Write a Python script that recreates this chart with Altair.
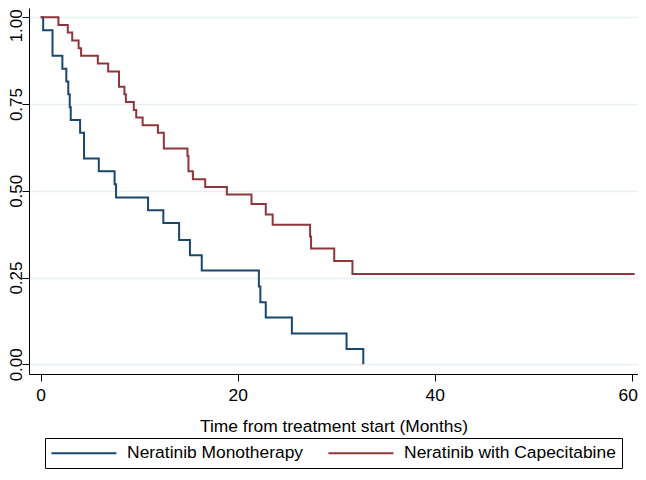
import altair as alt
import pandas as pd

# Kaplan-Meier step points
mono_label = "Neratinib Monotherapy"
mono_time = [0, 0.25, 1.2, 2.2, 2.6, 2.8, 2.95, 3.05, 4.0, 4.4, 5.9, 7.5, 7.65,
             10.9, 12.45, 14.05, 15.15, 16.35, 22.15, 22.3, 22.85, 25.5, 31.05, 32.75]
mono_surv = [1.0, 0.963, 0.889, 0.852, 0.815, 0.778, 0.741, 0.704, 0.667, 0.593,
             0.556, 0.519, 0.481, 0.444, 0.407, 0.358, 0.314, 0.270, 0.224, 0.179,
             0.135, 0.089, 0.044, 0.0]

cape_label = "Neratinib with Capecitabine"
cape_time = [0, 1.8, 2.75, 3.2, 3.85, 4.1, 5.8, 6.85, 7.95, 8.5, 8.65, 9.45, 9.7,
             10.35, 11.9, 12.5, 14.9, 15.0, 15.45, 16.7, 18.9, 21.4, 22.85, 23.55,
             27.35, 27.45, 29.8, 31.65, 60.3]
cape_surv = [1.0, 0.978, 0.956, 0.933, 0.911, 0.889, 0.867, 0.844, 0.800, 0.778,
             0.756, 0.733, 0.711, 0.689, 0.667, 0.622, 0.600, 0.556, 0.533, 0.511,
             0.489, 0.462, 0.432, 0.402, 0.368, 0.334, 0.298, 0.260, 0.260]

x_ticks = [0, 20, 40, 60]
y_ticks = [0, 0.25, 0.5, 0.75, 1.0]
groups = [mono_label, cape_label]
colors = ["#1a476f", "#90353b"]

df = pd.concat([
    pd.DataFrame({"t": mono_time, "s": mono_surv, "g": mono_label, "o": 0}),
    pd.DataFrame({"t": cape_time, "s": cape_surv, "g": cape_label, "o": 1}),
])

FONT = "Liberation Sans"
FS = 17.4

chart = alt.Chart(df).mark_line(interpolate="step-after", strokeWidth=2, clip=True).encode(
    x=alt.X("t:Q", scale=alt.Scale(domain=[-1.188, 60.64], nice=False, zero=False),
            axis=alt.Axis(values=x_ticks, title="Time from treatment start (Months)",
                          grid=False, tickSize=7, labelPadding=5, format="d",
                          labelOffset={"condition": {"test": "datum.value == 60", "value": -4}, "value": 0},
                          titleY=57, titleBaseline="alphabetic")),
    y=alt.Y("s:Q", scale=alt.Scale(domain=[-0.028, 1.0268], nice=False, zero=False),
            axis=alt.Axis(values=y_ticks, title=None, format=".2f", grid=True,
                          gridColor="#e6f0f2", gridWidth=1.5, tickSize=7, labelPadding=1,
                          labelFontSize=17,
                          labelAngle=270, labelAlign="center", labelBaseline="alphabetic",
                          labelOffset={"condition": {"test": "datum.value == 1", "value": 8}, "value": 0})),
    color=alt.Color("g:N", scale=alt.Scale(domain=groups, range=colors),
                    legend=alt.Legend(title=None, orient="none", direction="horizontal",
                                      legendX=16, legendY=430, strokeColor="#000",
                                      padding=6, symbolType="M-6.5,0H6.5", symbolSize=100,
                                      symbolOffset=24.2, symbolStrokeWidth=2,
                                      labelOffset=34.5, columnPadding=20,
                                      labelFontSize=FS, labelFont=FONT, labelColor="#000",
                                      labelLimit=400)),
    order="o:Q",
    detail="g:N",
).properties(
    width=609, height=366,
    padding={"left": 21, "top": 0, "right": 0, "bottom": 96},
    autosize=alt.AutoSizeParams(type="none"),
).configure_view(stroke=None).configure_axis(
    labelFont=FONT, titleFont=FONT, labelFontSize=FS, titleFontSize=FS,
    labelColor="#000", titleColor="#000", titleFontWeight="normal",
    domainColor="#000", tickColor="#000", domainWidth=1, tickWidth=1,
)

chart.save("out.html", embed_options={"renderer": "svg", "actions": False})
